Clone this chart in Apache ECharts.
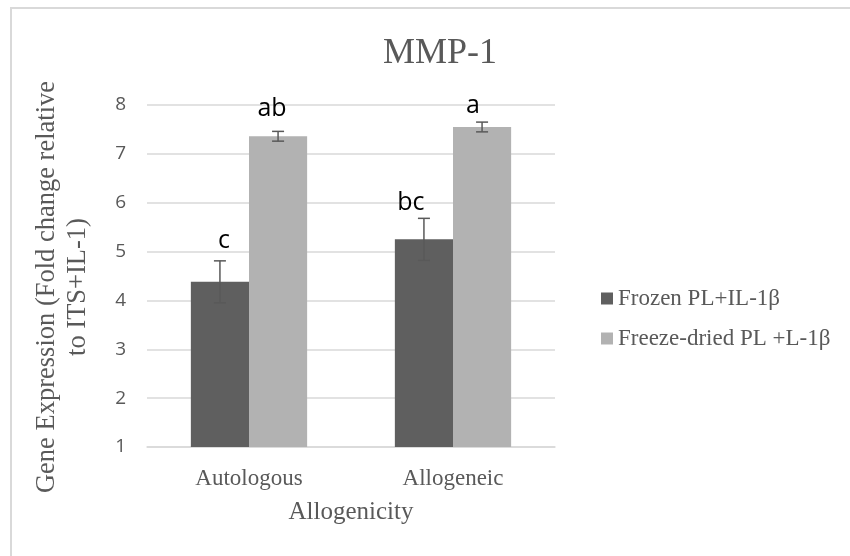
<!DOCTYPE html>
<html>
<head>
<meta charset="utf-8">
<script src="https://cdn.jsdelivr.net/npm/echarts@6/dist/echarts.min.js"></script>
<style>html,body{margin:0;padding:0;background:#fff}#c{width:850px;height:556px}</style>
</head>
<body>
<div id="c"></div>
<script>
// ---- data ----
const categories = ['Autologous', 'Allogeneic'];
const seriesNames = ['Frozen PL+IL-1\u03B2', 'Freeze-dried PL +L-1\u03B2'];
const frozenValues = [4.38, 5.25];
const frozenErrors = [0.43, 0.43];
const frozenLetters = ['c', 'bc'];
const driedValues = [7.36, 7.55];
const driedErrors = [0.10, 0.10];
const driedLetters = ['ab', 'a'];
const yTicks = [1, 2, 3, 4, 5, 6, 7, 8];

// ---- style ----
const SERIF = '"Liberation Serif","Times New Roman",serif';
const SANS = '"Open Sans","Noto Sans",sans-serif';
const TXT = '#595959';
const GRID = '#d9d9d9';
const COLORS = ['#5f5f5f', '#b2b2b2'];
const GAP = 0.43;
const letterDx = [[4, -13], [-6, -9]];   // pixel nudges for letters [series][category]
const letterDy = [[7, 3], [10, 4]];

const chart = echarts.init(document.getElementById('c'), null, {renderer: 'canvas'});

function errSeries(sIdx, values, errors, letters) {
  return {
    type: 'custom',
    z: 10,
    data: values.map((v, i) => [i, v, errors[i], letters[i]]),
    encode: {x: 0, y: 1},
    renderItem: function (params, api) {
      const ci = api.value(0), v = api.value(1), e = api.value(2);
      const letter = letters[params.dataIndex];
      const band = api.size([1, 0])[0];
      const barW = band * (1 - GAP) / 2;
      const off = (sIdx === 0 ? -1 : 1) * barW / 2;
      const top = api.coord([ci, v + e]);
      const bot = api.coord([ci, v - e]);
      const x = top[0] + off;
      const cap = 6;
      const st = {stroke: '#595959', lineWidth: 1.5};
      return {
        type: 'group',
        children: [
          {type: 'line', shape: {x1: x, y1: top[1], x2: x, y2: bot[1]}, style: st},
          {type: 'line', shape: {x1: x - cap, y1: top[1], x2: x + cap, y2: top[1]}, style: st},
          {type: 'line', shape: {x1: x - cap, y1: bot[1], x2: x + cap, y2: bot[1]}, style: st},
          {type: 'text', style: {
            text: letter, x: x + letterDx[sIdx][params.dataIndex], y: top[1] - letterDy[sIdx][params.dataIndex],
            align: 'center', verticalAlign: 'bottom',
            font: '25px ' + SANS, fill: '#000'
          }}
        ]
      };
    }
  };
}

chart.setOption({
  animation: false,
  backgroundColor: '#fff',
  color: COLORS,
  title: {
    text: 'MMP-1', left: 435, top: 31, textAlign: 'center',
    textStyle: {fontFamily: SERIF, fontSize: 36, fontWeight: 'normal', color: TXT}
  },
  graphic: [{
    type: 'rect', silent: true,
    shape: {x: 11, y: 8, width: 900, height: 600},
    style: {fill: 'none', stroke: GRID, lineWidth: 2}
  }],
  legend: {
    orient: 'vertical', left: 596, top: 282,
    itemWidth: 12, itemHeight: 12, itemGap: 17,
    icon: 'rect',
    data: seriesNames,
    textStyle: {fontFamily: SERIF, fontSize: 23, color: TXT}
  },
  grid: {left: 147, right: 295, top: 105, bottom: 109},
  xAxis: {
    type: 'category', data: categories,
    axisLine: {lineStyle: {color: GRID, width: 1.5}},
    axisTick: {show: false},
    axisLabel: {fontFamily: SERIF, fontSize: 23, color: TXT, margin: 20},
    name: 'Allogenicity', nameLocation: 'middle', nameGap: 53,
    nameTextStyle: {fontFamily: SERIF, fontSize: 25, color: TXT}
  },
  yAxis: {
    type: 'value', min: yTicks[0], max: yTicks[yTicks.length - 1], interval: 1,
    axisLine: {show: false}, axisTick: {show: false},
    splitLine: {lineStyle: {color: GRID, width: 1.5}},
    axisLabel: {fontFamily: SANS, fontSize: 19, color: TXT, margin: 21},
    name: 'Gene Expression (Fold change relative\nto ITS+IL-1)',
    nameLocation: 'middle', nameRotate: 90, nameGap: 53,
    nameTextStyle: {fontFamily: SERIF, fontSize: 26.5, color: TXT, lineHeight: 31, padding: [0, 22, 0, 0]}
  },
  series: [
    {name: seriesNames[0], type: 'bar', data: frozenValues, barGap: 0, barCategoryGap: (GAP * 100) + '%',
     itemStyle: {color: COLORS[0]}},
    {name: seriesNames[1], type: 'bar', data: driedValues, barGap: 0, barCategoryGap: (GAP * 100) + '%',
     itemStyle: {color: COLORS[1]}},
    errSeries(0, frozenValues, frozenErrors, frozenLetters),
    errSeries(1, driedValues, driedErrors, driedLetters)
  ]
});
</script>
</body>
</html>
